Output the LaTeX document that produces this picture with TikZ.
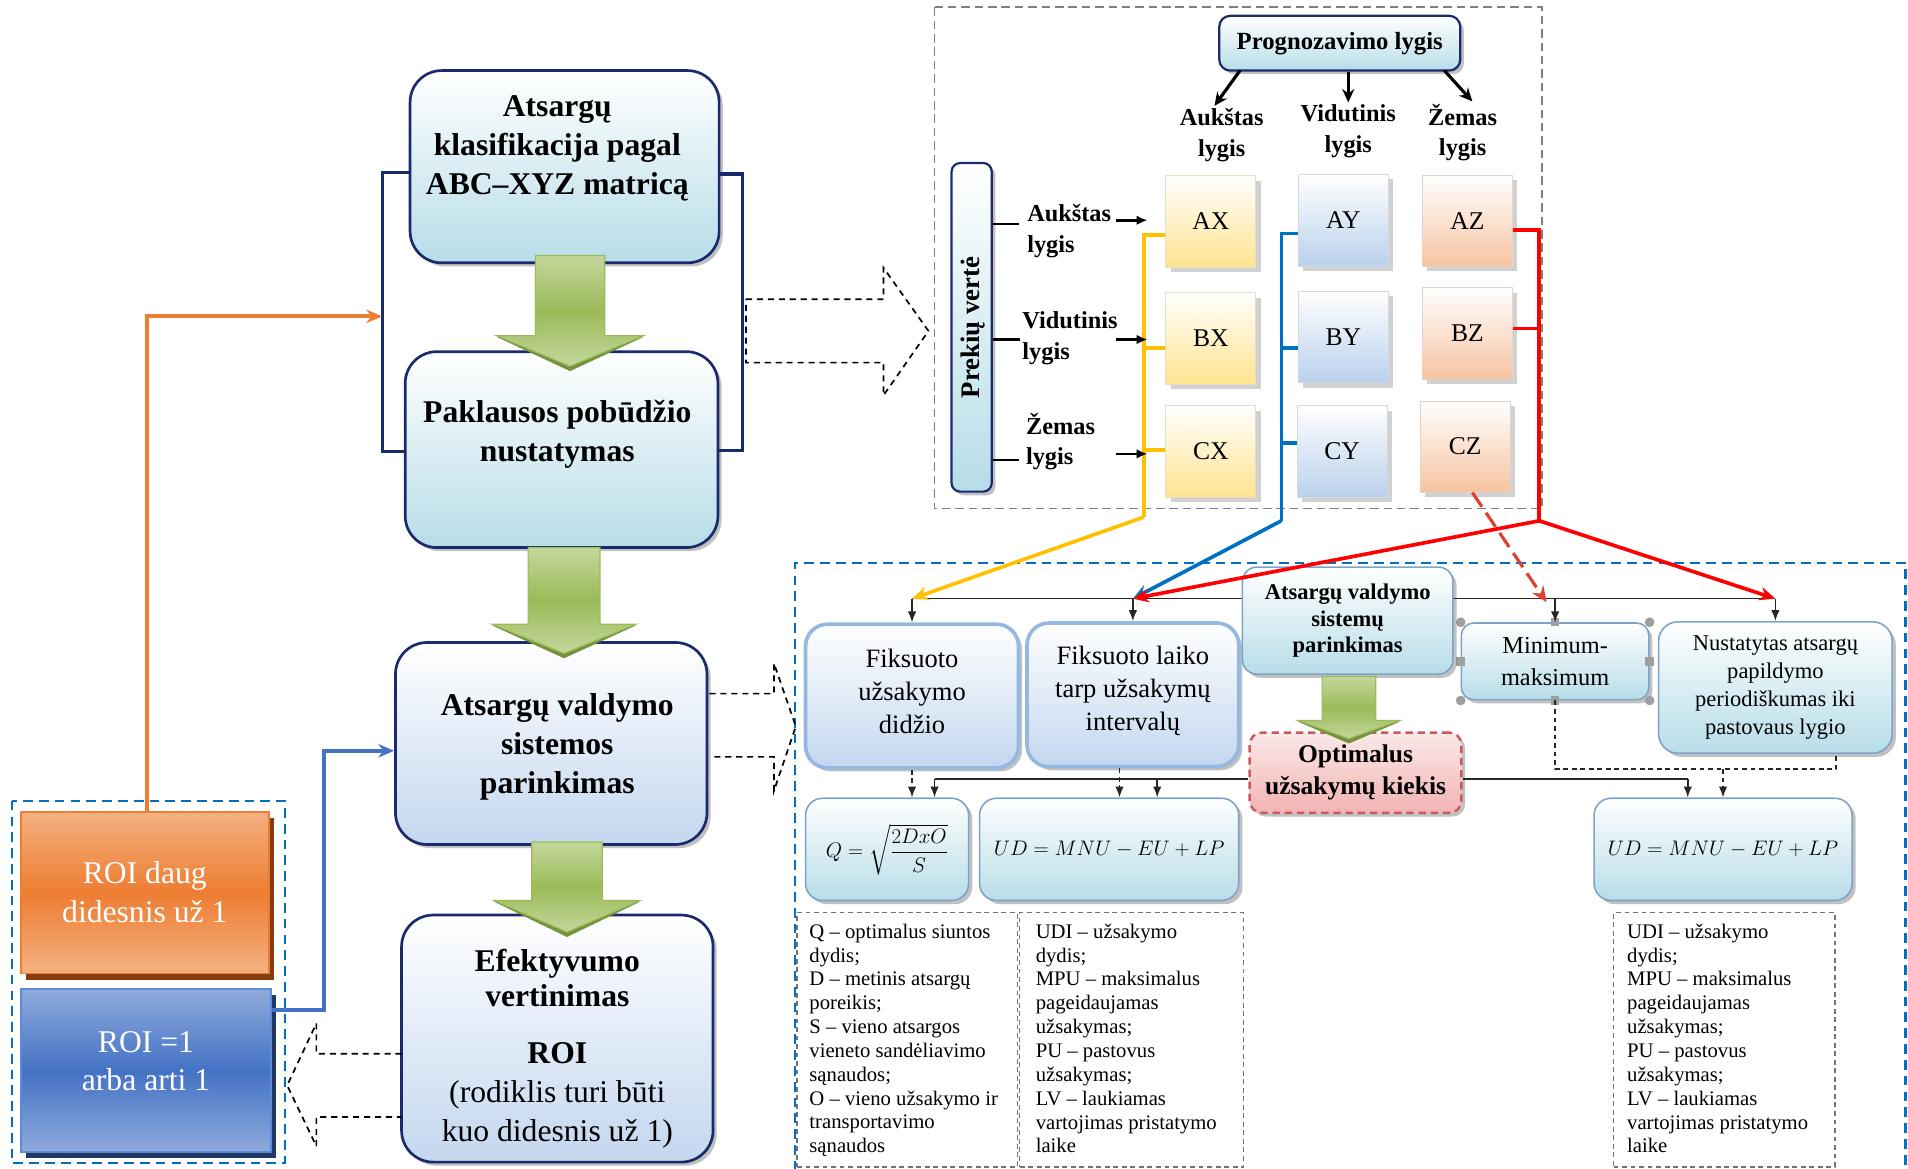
\documentclass[tikz,border=0pt]{standalone}
\usepackage{amsmath}
\usepackage{fontspec}
\setmainfont{Liberation Serif}
\usetikzlibrary{shadows,arrows.meta,calc}

\definecolor{cNavy}{HTML}{1A2A6C}
\definecolor{cCyan}{HTML}{B7DDE8}
\definecolor{cSky}{HTML}{C3D7EF}
\definecolor{cYel}{HTML}{FFE38F}
\definecolor{cBlu}{HTML}{B9D1EC}
\definecolor{cOra}{HTML}{F7C3A1}
\definecolor{cGrnL}{HTML}{C4D79B}
\definecolor{cGrnD}{HTML}{9BBB59}
\definecolor{cGrnS}{HTML}{76923C}
\definecolor{cOrange}{HTML}{ED7D31}
\definecolor{cOrangeL}{HTML}{F4B183}
\definecolor{cOrangeD}{HTML}{843C0C}
\definecolor{cRoyal}{HTML}{4472C4}
\definecolor{cRoyalL}{HTML}{8FAADC}
\definecolor{cRoyalD}{HTML}{203864}
\definecolor{cRoyalE}{HTML}{5B8BD9}
\definecolor{cGold}{HTML}{FFC000}
\definecolor{cOcean}{HTML}{0070C0}
\definecolor{cRed}{HTML}{FF0000}
\definecolor{cBrick}{HTML}{D9432F}
\definecolor{cPink}{HTML}{F2B3B3}
\definecolor{cRose}{HTML}{C85A5A}
\definecolor{cEdge}{HTML}{7FA3C8}
\definecolor{cEdgeL}{HTML}{94B8E0}

% block arrow: centre x, shaft top, head base, tip, half shaft width, half head width
\newcommand{\grnarrow}[6]{%
  \fill[cGrnS] ({#1-#6},{#3+1}) -- ({#1+#6},{#3+1}) -- (#1,{#4+4}) -- cycle;
  \draw[cGrnD, line width=1pt, top color=cGrnL, bottom color=cGrnL, middle color=cGrnD]
    ({#1-#5},#2) -- ({#1+#5},#2) -- ({#1+#5},#3) -- ({#1+#6},#3) -- (#1,#4)
    -- ({#1-#6},#3) -- ({#1-#5},#3) -- cycle;}

\tikzset{
  shad/.style={drop shadow={shadow xshift=3pt, shadow yshift=-3pt, opacity=.35, fill=black!70}},
  mainbox/.style={draw=cNavy, line width=2.2pt, rounded corners=26pt, inner sep=0pt,
    top color=white, bottom color=#1, shad},
  maintext/.style={align=center, inner sep=0pt, font=\bfseries\fontsize{26}{32}\selectfont},
  roiorange/.style={draw=cOrange, line width=1.6pt, inner sep=0pt, align=center, text=white,
    font=\fontsize{26}{32}\selectfont, top color=cOrangeL, bottom color=cOrangeL, middle color=cOrange,
    drop shadow={shadow xshift=4pt, shadow yshift=-5pt, opacity=1, fill=cOrangeD}},
  roiblue/.style={draw=cRoyalE, line width=1.6pt, inner sep=0pt,
    top color=cRoyalL, bottom color=cRoyalL, middle color=cRoyal,
    drop shadow={shadow xshift=4pt, shadow yshift=-5pt, opacity=1, fill=cRoyalD}},
  roitext/.style={align=center, inner sep=0pt, text=white, font=\fontsize{26}{31}\selectfont},
  tbox/.style={draw=cNavy, line width=1.8pt, rounded corners=9pt, inner sep=0pt,
    top color=white, bottom color=cCyan, shad},
  hdr/.style={align=center, inner sep=0pt, font=\bfseries\fontsize{20}{25}\selectfont},
  rowl/.style={align=left, anchor=west, inner sep=0pt, font=\bfseries\fontsize{20}{25}\selectfont},
  cell/.style={inner sep=0pt, minimum width=74pt, minimum height=75pt, draw=#1!60!gray!50, line width=.6pt,
    top color=white, bottom color=#1, font=\fontsize{21}{24}\selectfont,
    drop shadow={shadow xshift=4pt, shadow yshift=-4pt, opacity=.3, fill=black!60}},
  sbox/.style={inner sep=2pt, align=center, rounded corners=14pt, top color=white, bottom color=#1,
    draw=cEdge, line width=1.3pt, shad},
  fixbox/.style={sbox=cSky, draw=cEdgeL, line width=3pt, rounded corners=18pt},
  fixtext/.style={align=center, inner sep=0pt, font=\fontsize{21.8}{27}\selectfont},
  opbox/.style={inner sep=2pt, align=center, rounded corners=10pt, top color=white!70!cPink, bottom color=cPink,
    draw=cRose, dash pattern=on 6pt off 4pt, line width=2pt, font=\bfseries\fontsize{21}{26}\selectfont, shad},
  legbox/.style={draw=gray!90!black, dash pattern=on 4pt off 3pt, line width=1pt, inner sep=0pt},
  legtext/.style={anchor=north west, align=left, inner sep=0pt, font=\fontsize{17}{19.6}\selectfont},
  graydash/.style={draw=gray, line width=1.4pt, dash pattern=on 7pt off 4pt},
  bluedash/.style={draw=cOcean, line width=1.8pt, dash pattern=on 8pt off 5pt},
  outarrow/.style={draw=black, line width=1.4pt, dash pattern=on 5pt off 4pt},
  navyline/.style={draw=cNavy, line width=2.6pt},
  blk/.style={draw=black!85, line width=1.3pt},
  blkarrow/.style={blk, -{Latex[length=9pt,width=7pt]}},
  blkdash/.style={blk, dash pattern=on 4pt off 3pt},
  cline/.style={draw=#1, line width=3pt},
  carrow/.style={draw=#1, line width=3pt, -{Stealth[length=13pt,width=11pt]}},
  tick/.style={draw=black, line width=2.2pt},
  rowarrow/.style={draw=black, line width=2.2pt, -{Latex[length=9pt,width=8pt]}},
  progarrow/.style={draw=black, line width=2.6pt, -{Stealth[length=11pt,width=10pt]}},
}

\begin{document}
\begin{tikzpicture}[x=1pt,y=-1pt]
\useasboundingbox (0,0) rectangle (1568,960);

% ---------- frames ----------
\draw[graydash] (768,6) rectangle (1267,418);
\draw[bluedash] (653,975) -- (653,463) -- (1566,463) -- (1566,975);
\draw[bluedash, line width=1.5pt] (10,658) rectangle (234,956);

% ---------- main column ----------
\node[mainbox=cCyan, minimum width=254pt, minimum height=158pt] (b1) at (464,137) {};
\node[maintext] (t1) at (458,122) {Atsargų\\klasifikacija pagal\\ABC–XYZ matricą};
\node[mainbox=cCyan, minimum width=257pt, minimum height=161pt] (b2) at (461.5,369.5) {};
\node[maintext] (t2) at (458,357) {Paklausos pobūdžio\\nustatymas};
\node[mainbox=cSky, minimum width=256pt, minimum height=166pt] (b3) at (453,611) {};
\node[maintext] (t3) at (458,614) {Atsargų valdymo\\sistemos\\parinkimas};
\node[mainbox=cSky, minimum width=256pt, minimum height=203pt] (b4) at (458,853.5) {};
\node[maintext, font=\bfseries\fontsize{26}{29}\selectfont] (t4a) at (458,804) {Efektyvumo\\vertinimas};
\node[align=center, inner sep=0pt, font=\fontsize{26}{32}\selectfont] (t4b) at (458,900)
  {\textbf{ROI}\\(rodiklis turi būti\\kuo didesnis už 1)};

% brackets round the first two steps
\coordinate (brL1) at (314,142);
\coordinate (brL2) at (314,371);
\coordinate (brR1) at (610,143);
\coordinate (brR2) at (610,370);
\draw[navyline] (brL1 -| b1.west) -- (brL1) -- (brL2) -- (brL2 -| b2.west);
\draw[navyline] (brR1 -| b1.east) -- (brR1) -- (brR2) -- (brR2 -| b2.east);

% green step arrows
\grnarrow{468.5}{210}{276}{301}{28.5}{60}
\grnarrow{463.5}{450}{513}{537}{29.5}{59}
\grnarrow{466}{692}{740}{766}{29}{60}

% dashed outline arrows
\draw[outarrow] (613,246) -- (726,246) -- (726,220) -- (763,272) -- (726,325) -- (726,298) -- (613,298) -- cycle;
\draw[outarrow] (583,570) -- (636,570) -- (636,545) -- (654,597) -- (636,650) -- (636,622) -- (583,622);
\draw[outarrow] (330,866) -- (260,866) -- (260,841) -- (236,892) -- (260,942) -- (260,918) -- (330,918);

% ---------- ROI boxes ----------
\node[roiorange, minimum width=204pt, minimum height=133pt] (roiO) at (119,733.5) {ROI daug\\didesnis už 1};
\node[roiblue, minimum width=206pt, minimum height=134pt] (roiB) at (120,880) {};
\node[roitext] (roiBt) at (120,872) {ROI =1\\arba arti 1};

\coordinate (oTurn) at (121,260);
\draw[draw=cOrange, line width=3.2pt, -{Stealth[length=13pt,width=11pt]}]
  (roiO.north -| oTurn) -- (oTurn) -- (oTurn -| brL1);
\coordinate (bTurn0) at (266,830);
\coordinate (bTurn) at (266,617);
\draw[draw=cRoyal, line width=3.2pt, -{Stealth[length=13pt,width=11pt]}]
  (bTurn0 -| roiB.east) -- (bTurn0) -- (bTurn) -- (bTurn -| b3.west);

% ---------- ABC-XYZ matrix ----------
\node[tbox, minimum width=198pt, minimum height=45pt, font=\bfseries\fontsize{20.3}{24}\selectfont] (pg) at (1101,35.5) {Prognozavimo lygis};
\node[hdr] (hA) at (1004,111) {Aukštas\\lygis};
\node[hdr] (hV) at (1108,108) {Vidutinis\\lygis};
\node[hdr] (hZ) at (1202,109) {Žemas\\lygis};
\draw[progarrow] ([xshift=18pt,yshift=1pt]pg.south west) -- ([xshift=-6pt,yshift=2pt]hA.north);
\draw[progarrow] (hV.north |- pg.south) -- ([yshift=2pt]hV.north);
\draw[progarrow] ([xshift=-14pt,yshift=1pt]pg.south east) -- ([xshift=8pt,yshift=2pt]hZ.north);

\node[tbox, rounded corners=7pt, minimum width=33pt, minimum height=270pt] (pv) at (798.5,269) {};
\node[rotate=90, inner sep=0pt, font=\bfseries\fontsize{22}{24}\selectfont] (pvt) at (800,269) {Prekių vertė};
\node[rowl] (rA) at (844,190) {Aukštas\\lygis};
\node[rowl] (rV) at (840,278) {Vidutinis\\lygis};
\node[rowl] (rZ) at (843,363) {Žemas\\lygis};
\coordinate (k1) at (837,184);
\coordinate (k2) at (838,279);
\coordinate (k3) at (837,378);
\draw[tick] (k1 -| pv.east) -- (k1);
\draw[tick] (k2 -| pv.east) -- (k2);
\draw[tick] (k3 -| pv.east) -- (k3);

\node[cell=cYel] (AX) at (995,182) {AX};
\node[cell=cYel] (BX) at (995,278) {BX};
\node[cell=cYel] (CX) at (995,371) {CX};
\node[cell=cBlu] (AY) at (1104,181) {AY};
\node[cell=cBlu] (BY) at (1104,277) {BY};
\node[cell=cBlu] (CY) at (1103,371) {CY};
\node[cell=cOra] (AZ) at (1206,181.5) {AZ};
\node[cell=cOra] (BZ) at (1206,274) {BZ};
\node[cell=cOra] (CZ) at (1204,367) {CZ};

% group brackets
\coordinate (yb1) at (940,193);
\coordinate (yb2) at (940,286);
\coordinate (yb3) at (940,370);
\coordinate (yb4) at (940,425);
\coordinate (ub1) at (1053,192);
\coordinate (ub2) at (1053,286);
\coordinate (ub3) at (1053,364);
\coordinate (ub4) at (1053,428);
\coordinate (rb1) at (1265,189);
\coordinate (rb2) at (1265,270);
\coordinate (rb4) at (1265,428);
\draw[cline=cGold] (yb1 -| AX.west) -- (yb1) -- (yb4);
\draw[cline=cGold] (yb2) -- (yb2 -| BX.west);
\draw[cline=cGold] (yb3) -- (yb3 -| CX.west);
\draw[cline=cOcean] (ub1 -| AY.west) -- (ub1) -- (ub4);
\draw[cline=cOcean] (ub2) -- (ub2 -| BY.west);
\draw[cline=cOcean] (ub3) -- (ub3 -| CY.west);
\draw[cline=cRed] (rb1 -| AZ.east) -- (rb1) -- (rb4);
\draw[cline=cRed] (rb2) -- (rb2 -| BZ.east);

\coordinate (m1) at (917,181);
\coordinate (m2) at (917,279);
\coordinate (m3) at (917,373);
\draw[rowarrow] (m1) -- ([xshift=3pt]m1 -| yb1);
\draw[rowarrow] (m2) -- ([xshift=3pt]m2 -| yb1);
\draw[rowarrow] (m3) -- ([xshift=3pt]m3 -| yb1);

% ---------- inventory control systems ----------
\node[fixbox, minimum width=175pt, minimum height=118pt] (fu) at (749.5,572) {};
\node[fixtext] (fut) at (749.5,568) {Fiksuoto\\užsakymo\\didžio};
\node[fixbox, minimum width=174pt, minimum height=118pt] (fl) at (931,571) {};
\node[fixtext] (flt) at (931,568) {Fiksuoto laiko\\tarp užsakymų\\intervalų};
\node[sbox=cCyan, rounded corners=10pt, minimum width=154pt, minimum height=63pt,
  font=\fontsize{20}{26}\selectfont] (mm) at (1278,543.5) {Minimum-\\maksimum};
\node[sbox=cCyan, rounded corners=16pt, minimum width=192pt, minimum height=108pt,
  font=\fontsize{18.5}{23}\selectfont] (ns) at (1459,565) {Nustatytas atsargų\\papildymo\\periodiškumas iki\\pastovaus lygio};

\foreach \a in {north west, north east, south west, south east}
  \fill[gray!75] (mm.\a) circle (4pt);
\foreach \a in {north, south, east, west}
  \fill[gray!75] ($(mm.\a)+(-3.5,-3.5)$) rectangle ++(7,7);

\coordinate (hl) at (0,492);
\draw[blk] (fu.north |- hl) -- (ns.north |- hl);
\draw[blkarrow] (fu.north |- hl) -- (fu.north);
\draw[blkarrow] (fl.north |- hl) -- (fl.north);
\draw[blkarrow] (mm.north |- hl) -- (mm.north);
\draw[blkarrow] (ns.north |- hl) -- (ns.north);

\node[sbox=cCyan, rounded corners=12pt, minimum width=173pt, minimum height=88pt,
  font=\bfseries\fontsize{18.5}{22}\selectfont] (vs) at (1107.5,510) {Atsargų valdymo\\sistemų\\parinkimas};

\node[opbox, minimum width=174pt, minimum height=66pt] (op) at (1114,635) {Optimalus\\užsakymų kiekis};
\grnarrow{1108.5}{556}{592}{607}{22}{42}

% coloured group links
\draw[carrow=cGold] (yb4) -- (fu.north |- hl);
\draw[carrow=cOcean] (ub4) -- (fl.north |- hl);
\draw[carrow=cRed] (rb4) -- (fl.north |- hl);
\draw[carrow=cRed] (rb4) -- (ns.north |- hl);
\draw[draw=cBrick, line width=2.6pt, dash pattern=on 14pt off 6pt, -{Stealth[length=13pt,width=11pt]}]
  ([xshift=6pt]CZ.south) -- ($(mm.north |- hl)+(-7,3)$);

% ---------- formulas ----------
\node[sbox=cCyan, minimum width=134pt, minimum height=84pt, font=\fontsize{17.28}{21}\selectfont] (qb) at (729,698)
  {$Q=\sqrt{\dfrac{2DxO}{S}}$};
\node[sbox=cCyan, minimum width=213pt, minimum height=84pt, font=\fontsize{17.28}{21}\selectfont] (ud1) at (911.5,698)
  {$UD = MNU - EU + LP$};
\node[sbox=cCyan, minimum width=212pt, minimum height=84pt, font=\fontsize{17.28}{21}\selectfont] (ud2) at (1416,698)
  {$UD = MNU - EU + LP$};

\coordinate (hl2) at (0,640);
\coordinate (qa2) at (768,640);
\coordinate (ua1) at (920,640);
\coordinate (ua2) at (951,640);
\coordinate (ub2a) at (1387,640);
\coordinate (dd) at (1509,632);
\draw[blk] (op.west |- hl2) -- (qa2);
\draw[blkarrow] (qa2) -- (qa2 |- qb.north);
\draw[blkarrow] (ua2) -- (ua2 |- ud1.north);
\draw[blkdash, -{Latex[length=9pt,width=7pt]}] (fu.south) -- (fu.south |- qb.north);
\draw[blkdash, -{Latex[length=9pt,width=7pt]}] (ua1 |- fl.south) -- (ua1 |- ud1.north);
\draw[blk] (op.east |- hl2) -- (ub2a);
\draw[blkarrow] (ub2a) -- (ub2a |- ud2.north);
\draw[blkdash] (mm.south) -- (mm.south |- dd) -- (dd) -- (dd |- ns.south);
\draw[blkdash, -{Latex[length=9pt,width=7pt]}] (ud2.north |- dd) -- (ud2.north);

% ---------- legends ----------
\node[legbox, minimum width=181pt, minimum height=209pt] (L1) at (745.5,854.5) {};
\node[legbox, minimum width=184pt, minimum height=209pt] (L2) at (930,854.5) {};
\node[legbox, minimum width=182pt, minimum height=209pt] (L3) at (1417,854.5) {};
\node[legtext] (L1t) at (665,759) {Q – optimalus siuntos\\dydis;\\D – metinis atsargų\\poreikis;\\S – vieno atsargos\\vieneto sandėliavimo\\sąnaudos;\\O – vieno užsakymo ir\\transportavimo\\sąnaudos};
\node[legtext] (L2t) at (851,759) {UDI – užsakymo\\dydis;\\MPU – maksimalus\\pageidaujamas\\užsakymas;\\PU – pastovus\\užsakymas;\\LV – laukiamas\\vartojimas pristatymo\\laike};
\node[legtext] (L3t) at (1337,759) {UDI – užsakymo\\dydis;\\MPU – maksimalus\\pageidaujamas\\užsakymas;\\PU – pastovus\\užsakymas;\\LV – laukiamas\\vartojimas pristatymo\\laike};

\end{tikzpicture}
\end{document}
